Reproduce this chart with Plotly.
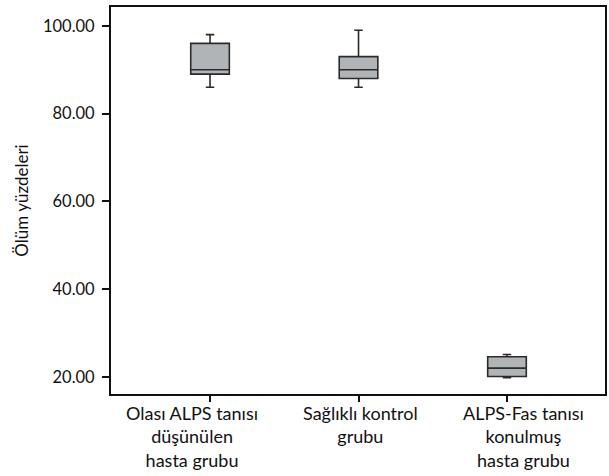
import plotly.graph_objects as go

categories = ["Olası ALPS tanısı<br>düşünülen<br>hasta grubu",
              "Sağlıklı kontrol<br>grubu",
              "ALPS-Fas tanısı<br>konulmuş<br>hasta grubu"]
lower_whisker = [86, 86, 19.8]
q1 = [89, 88, 20.1]
median = [90, 90, 22]
q3 = [96, 93, 24.6]
upper_whisker = [98, 99, 25.1]
y_ticks = [20, 40, 60, 80, 100]

# horizontal pixel offsets of category labels (style only)
label_xshift = [-18, 2, 16]

fig = go.Figure()
fig.add_trace(go.Box(
    x=categories, q1=q1, median=median, q3=q3,
    lowerfence=lower_whisker, upperfence=upper_whisker,
    fillcolor="#b1b4b7", line=dict(color="#2a2a2a", width=1.6),
    width=0.26, whiskerwidth=0.22, boxpoints=False, showlegend=False,
    hoverinfo="skip",
))

for cat, dx in zip(categories, label_xshift):
    fig.add_annotation(
        x=cat, xref="x", y=0, yref="paper", yanchor="top", xanchor="center",
        text=cat, showarrow=False, xshift=dx, yshift=-6,
        font=dict(size=18, color="#111"), align="center",
    )

font_family = "Lato, Open Sans, sans-serif"
fig.update_layout(
    width=609, height=476,
    margin=dict(l=111, r=4, t=7, b=82, autoexpand=False),
    paper_bgcolor="white", plot_bgcolor="white",
    font=dict(family=font_family, size=16, color="#111"),
    xaxis=dict(
        range=[-0.667, 2.66], showline=True, mirror=True, linecolor="#111", linewidth=2,
        ticks="outside", ticklen=6, tickwidth=1.5, tickcolor="#111",
        showgrid=False, zeroline=False, showticklabels=False, automargin=False,
    ),
    yaxis=dict(
        range=[16.1, 104.3], showline=True, mirror=True, linecolor="#111", linewidth=2,
        ticks="outside", ticklen=7, tickwidth=1.5, tickcolor="#111",
        tickvals=y_ticks, tickformat=".2f", showgrid=False, zeroline=False,
        ticklabelstandoff=4,
        title=dict(text="Ölüm yüzdeleri", font=dict(size=17), standoff=10),
        tickfont=dict(size=16.5), automargin=False,
    ),
)
fig.write_html("out.html", config={"displayModeBar": False},
               post_script="document.body.style.margin='0';document.body.style.padding='0';")
